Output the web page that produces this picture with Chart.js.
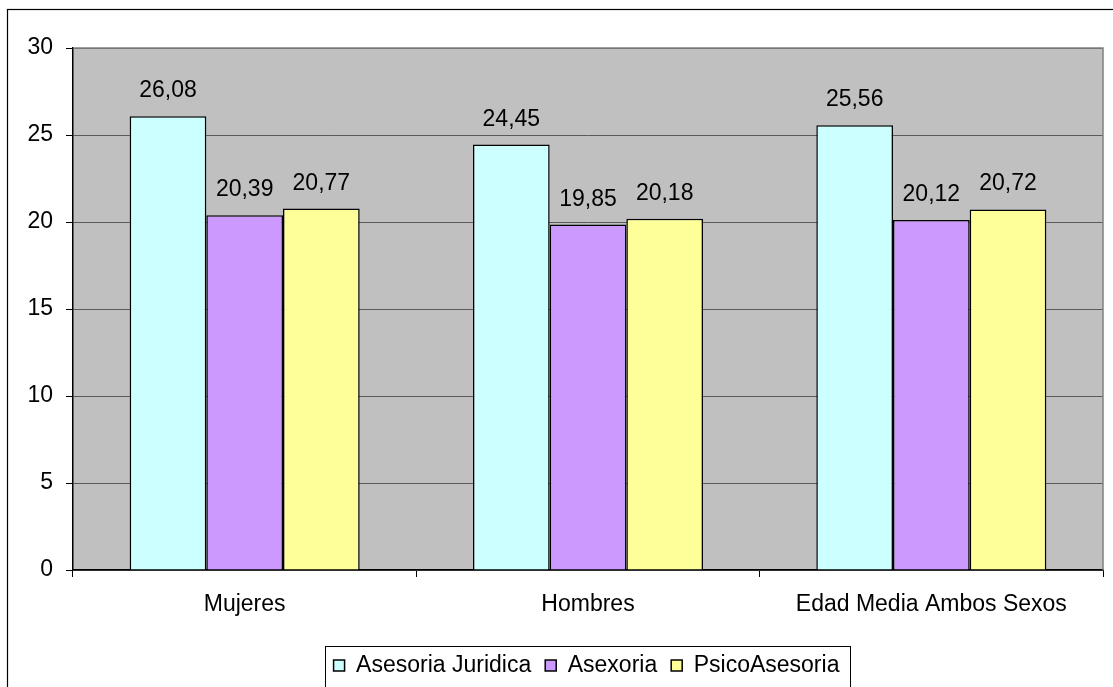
<!DOCTYPE html>
<html>
<head>
<meta charset="utf-8">
<title>Edad media</title>
<script src="https://cdn.jsdelivr.net/npm/chart.js@4/dist/chart.umd.min.js"></script>
<style>
  html, body { margin: 0; padding: 0; background: #fff; }
  #wrap { width: 1113px; height: 687px; }
</style>
</head>
<body>
<div id="wrap"><canvas id="myChart" width="1113" height="687"></canvas></div>
<script>
var categories = ['Mujeres', 'Hombres', 'Edad Media Ambos Sexos'];
var juridicaValues = [26.08, 24.45, 25.56];
var asexoriaValues = [20.39, 19.85, 20.12];
var psicoValues = [20.77, 20.18, 20.72];
var yTicks = [0, 5, 10, 15, 20, 25, 30];

var FONT = '"Liberation Sans", Arial, sans-serif';
var FSIZE = 23;

// gray plot background, outer frame, legend frame
var backdrop = {
    id: 'backdrop',
    afterLayout: function (chart) {
        // legend sits centred under the plot, not the whole canvas
        var lg = chart.legend;
        lg.left += 25;
        lg.right += 25;
        if (lg.adjustHitBoxes) lg.adjustHitBoxes();
    },
    beforeDraw: function (chart) {
        var ctx = chart.ctx, a = chart.chartArea;
        ctx.save();
        ctx.fillStyle = '#fff';
        ctx.fillRect(0, 0, chart.width, chart.height);
        ctx.strokeStyle = '#000';
        ctx.lineWidth = 1.2;
        ctx.strokeRect(7.5, 9.5, chart.width + 20, chart.height + 20);
        ctx.fillStyle = '#C0C0C0';
        ctx.fillRect(a.left, a.top, a.right - a.left, a.bottom - a.top);
        ctx.restore();
    },
    beforeDatasetsDraw: function (chart) {
        var ctx = chart.ctx, a = chart.chartArea;
        ctx.save();
        ctx.strokeStyle = '#808080';
        ctx.lineWidth = 1.5;
        ctx.beginPath();
        ctx.moveTo(a.left, a.top);
        ctx.lineTo(a.right, a.top);
        ctx.lineTo(a.right, a.bottom);
        ctx.stroke();
        ctx.restore();
    },
    afterDraw: function (chart) {
        var boxes = chart.legend.legendHitBoxes;
        if (!boxes || !boxes.length) return;
        var last = boxes[boxes.length - 1];
        var l = boxes[0].left, r = last.left + last.width;
        var ctx = chart.ctx;
        ctx.save();
        ctx.strokeStyle = '#000';
        ctx.lineWidth = 1;
        ctx.strokeRect(Math.round(l - 9) + 0.5, 646.5, Math.round(r - l + 19), 60);
        ctx.restore();
    }
};

// value labels above each bar, comma as decimal mark
var valueLabels = {
    id: 'valueLabels',
    afterDatasetsDraw: function (chart) {
        var ctx = chart.ctx;
        ctx.save();
        ctx.font = FSIZE + 'px ' + FONT;
        ctx.fillStyle = '#000';
        ctx.textAlign = 'center';
        ctx.textBaseline = 'alphabetic';
        chart.data.datasets.forEach(function (ds, i) {
            chart.getDatasetMeta(i).data.forEach(function (bar, j) {
                var txt = ds.data[j].toFixed(2).replace('.', ',');
                ctx.fillText(txt, bar.x, bar.y - 19);
            });
        });
        ctx.restore();
    }
};

new Chart('myChart', {
    type: 'bar',
    data: {
        labels: categories,
        datasets: [{
            label: 'Asesoria Juridica',
            data: juridicaValues,
            backgroundColor: '#CCFFFF',
            borderColor: '#000',
            borderWidth: 1.5
        }, {
            label: 'Asexoria',
            data: asexoriaValues,
            backgroundColor: '#CC99FF',
            borderColor: '#000',
            borderWidth: 1.5
        }, {
            label: 'PsicoAsesoria',
            data: psicoValues,
            backgroundColor: '#FFFF99',
            borderColor: '#000',
            borderWidth: 1.5
        }]
    },
    options: {
        responsive: false,
        animation: false,
        devicePixelRatio: 1,
        categoryPercentage: 0.67,
        barPercentage: 1,
        layout: { padding: { left: 20, right: 10, top: 48, bottom: 0 } },
        plugins: {
            tooltip: { enabled: false },
            legend: {
                position: 'bottom',
                labels: {
                    boxWidth: 11,
                    boxHeight: 11,
                    padding: 14,
                    color: '#000',
                    font: { family: FONT, size: FSIZE }
                }
            }
        },
        scales: {
            x: {
                offset: true,
                grid: { drawOnChartArea: false, offset: true, tickLength: 7, tickColor: '#000' },
                border: { color: '#000', width: 1.5 },
                ticks: { color: '#000', padding: 14, maxRotation: 0, autoSkip: false,
                         font: { family: FONT, size: FSIZE } },
                afterFit: function (s) { s.height = 70; }
            },
            y: {
                min: 0,
                max: 30,
                afterBuildTicks: function (s) { s.ticks = yTicks.map(function (v) { return { value: v }; }); },
                grid: { color: '#5A5A5A', lineWidth: 1, tickLength: 7, tickColor: '#000' },
                border: { color: '#000', width: 1.5 },
                ticks: { color: '#000', padding: 13, font: { family: FONT, size: FSIZE } },
                afterFit: function (s) { s.width = 53; }
            }
        }
    },
    plugins: [backdrop, valueLabels]
});
</script>
</body>
</html>
